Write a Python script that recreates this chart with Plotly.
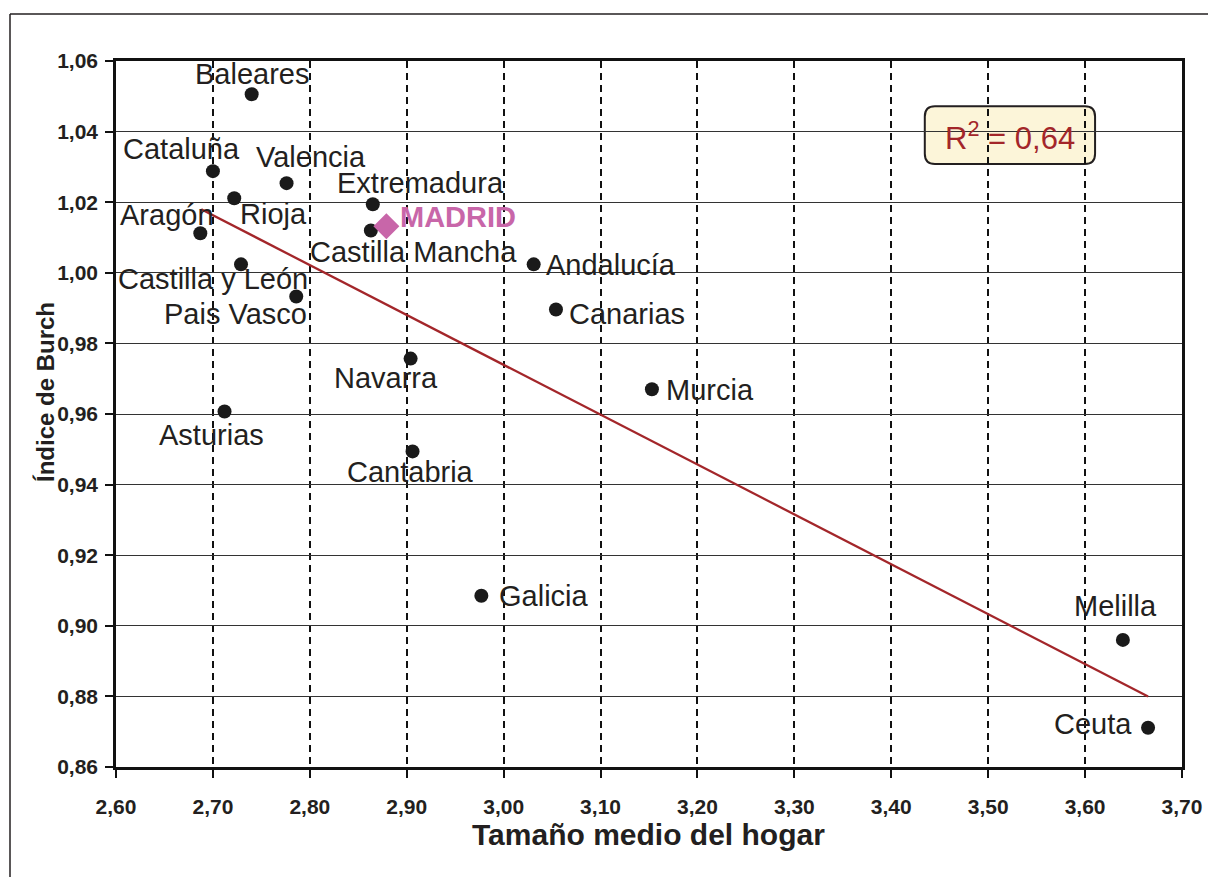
import plotly.graph_objects as go

# ---- data ----
regions = ["Baleares", "Cataluña", "Valencia", "Rioja", "Extremadura", "Aragón",
           "Castilla Mancha", "Castilla y León", "Pais Vasco", "Andalucía", "Canarias",
           "Navarra", "Murcia", "Asturias", "Cantabria", "Galicia", "Melilla", "Ceuta"]
household_size = [2.740, 2.700, 2.776, 2.722, 2.865, 2.687,
                  2.863, 2.729, 2.786, 3.031, 3.054,
                  2.904, 3.153, 2.712, 2.906, 2.977, 3.639, 3.665]
burch_index = [1.0506, 1.0288, 1.0254, 1.0211, 1.0194, 1.0112,
               1.0120, 1.0024, 0.9933, 1.0024, 0.9896,
               0.9757, 0.9670, 0.9607, 0.9494, 0.9085, 0.8960, 0.8711]

madrid_name = "MADRID"
madrid_size = [2.879]
madrid_index = [1.0132]

trend_x = [2.688, 3.665]
trend_y = [1.018, 0.880]

r2_text = "R<sup>2</sup> = 0,64"

x_ticks = [2.60, 2.70, 2.80, 2.90, 3.00, 3.10, 3.20, 3.30, 3.40, 3.50, 3.60, 3.70]
y_ticks = [0.86, 0.88, 0.90, 0.92, 0.94, 0.96, 0.98, 1.00, 1.02, 1.04, 1.06]

# ---- label placement (pixel offsets from each point) ----
label_pos = {
    "Baleares": ("center", 0, 20),
    "Cataluña": ("center", -31, 22),
    "Valencia": ("center", 24, 26),
    "Rioja": ("center", 39, -16),
    "Extremadura": ("center", 48, 21),
    "Aragón": ("center", -33, 18),
    "Castilla Mancha": ("center", 43, -22),
    "Castilla y León": ("center", -28, -15),
    "Pais Vasco": ("center", -61, -18),
    "Andalucía": ("left", 10, -1),
    "Canarias": ("left", 11, -4),
    "Navarra": ("center", -25, -19),
    "Murcia": ("left", 12, -1),
    "Asturias": ("center", -13, -23),
    "Cantabria": ("center", -2, -21),
    "Galicia": ("left", 16, 0),
    "Melilla": ("center", -7, 34),
    "Ceuta": ("right", -14, 4),
}

TXT = "#231f20"
RED = "#a3262a"
PINK = "#c866a9"
FONT = "Liberation Sans, Arial, Helvetica, sans-serif"

fig = go.Figure()

fig.add_trace(go.Scatter(x=trend_x, y=trend_y, mode="lines",
                         line=dict(color=RED, width=2.3), hoverinfo="skip", showlegend=False))

fig.add_trace(go.Scatter(x=household_size, y=burch_index, mode="markers",
                         marker=dict(color="#1a1a1a", size=14, line=dict(width=0)),
                         text=regions, showlegend=False))

fig.add_trace(go.Scatter(x=madrid_size, y=madrid_index, mode="markers",
                         marker=dict(color=PINK, size=20, symbol="diamond", line=dict(width=0)),
                         showlegend=False))

annotations = []
for name, xv, yv in zip(regions, household_size, burch_index):
    anchor, dx, dy = label_pos[name]
    annotations.append(dict(x=xv, y=yv, xref="x", yref="y", text=name, showarrow=False,
                            xanchor=anchor, yanchor="middle", xshift=dx, yshift=dy,
                            font=dict(family=FONT, size=29, color=TXT)))

annotations.append(dict(x=madrid_size[0], y=madrid_index[0], xref="x", yref="y",
                        text="<b>" + madrid_name + "</b>", showarrow=False,
                        xanchor="left", yanchor="middle", xshift=12, yshift=9,
                        font=dict(family=FONT, size=29, color=PINK)))

# R2 text
annotations.append(dict(x=3.5225, y=1.0388, xref="x", yref="y", text=r2_text, showarrow=False,
                        xanchor="center", yanchor="middle",
                        font=dict(family=FONT, size=31, color=RED)))

# axis titles
annotations.append(dict(x=(648 - 116) / 1066, y=(767 - 834) / 706, xref="paper", yref="paper",
                        text="<b>Tamaño medio del hogar</b>", showarrow=False,
                        xanchor="center", yanchor="middle",
                        font=dict(family=FONT, size=30, color=TXT)))
annotations.append(dict(x=(45 - 116) / 1066, y=(767 - 392) / 706, xref="paper", yref="paper",
                        text="<b>Índice de Burch</b>", showarrow=False, textangle=-90,
                        xanchor="center", yanchor="middle",
                        font=dict(family=FONT, size=24, color=TXT)))

# rounded box for R2 (drawn below grid lines)
bx0, bx1, by0, by1 = 3.4346, 3.6103, 1.0308, 1.0472
rx, ry = 0.0105, 0.0029
path = (f"M {bx0+rx},{by1} L {bx1-rx},{by1} Q {bx1},{by1} {bx1},{by1-ry} "
        f"L {bx1},{by0+ry} Q {bx1},{by0} {bx1-rx},{by0} L {bx0+rx},{by0} "
        f"Q {bx0},{by0} {bx0},{by0+ry} L {bx0},{by1-ry} Q {bx0},{by1} {bx0+rx},{by1} Z")

shapes = [
    dict(type="path", path=path, xref="x", yref="y", layer="below",
         fillcolor="#fcf5d9", line=dict(color="#231f20", width=2)),
    # outer frame (left and top edges visible)
    dict(type="line", xref="paper", yref="paper", x0=(10 - 116) / 1066, x1=(10 - 116) / 1066,
         y0=-0.3, y1=(767 - 14) / 706, line=dict(color="#231f20", width=1.5)),
    dict(type="line", xref="paper", yref="paper", x0=(10 - 116) / 1066, x1=1.1,
         y0=(767 - 14) / 706, y1=(767 - 14) / 706, line=dict(color="#231f20", width=1.5)),
]

fig.update_layout(
    width=1208, height=877,
    margin=dict(l=116, r=26, t=61, b=110, autoexpand=False),
    paper_bgcolor="white", plot_bgcolor="white",
    separators=",.",
    showlegend=False,
    annotations=annotations,
    shapes=shapes,
)

fig.update_xaxes(range=[2.60, 3.70], tickvals=x_ticks, tickformat=".2f", automargin=False,
                 showgrid=True, gridcolor="#111111", gridwidth=1.8, griddash="7px,5px",
                 showline=True, linecolor="#111111", linewidth=2.5, mirror=True,
                 ticks="outside", ticklen=8, tickwidth=2, tickcolor="#111111",
                 ticklabelstandoff=11,
                 tickfont=dict(family=FONT, size=21, color=TXT, weight="bold"),
                 zeroline=False, fixedrange=True)
fig.update_yaxes(range=[0.86, 1.06], tickvals=y_ticks, tickformat=".2f", automargin=False,
                 showgrid=True, gridcolor="#333333", gridwidth=1.3,
                 showline=True, linecolor="#111111", linewidth=2.5, mirror=True,
                 ticks="outside", ticklen=8, tickwidth=1.5, tickcolor="#111111",
                 ticklabelstandoff=3,
                 tickfont=dict(family=FONT, size=21, color=TXT, weight="bold"),
                 zeroline=False, fixedrange=True)

fig.write_html("out.html")
